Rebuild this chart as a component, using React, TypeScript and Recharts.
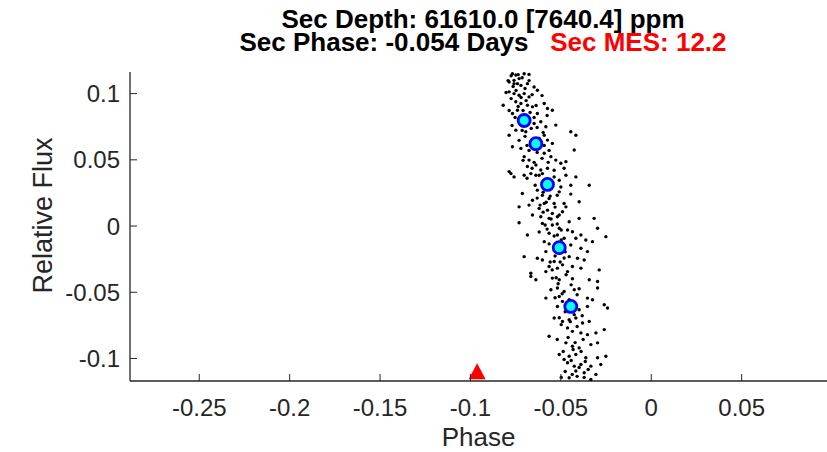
import { Scatter, ScatterChart, XAxis, YAxis } from "recharts";

const xTicks = [-0.25, -0.2, -0.15, -0.1, -0.05, 0, 0.05];
const yTicks = [-0.1, -0.05, 0, 0.05, 0.1];
const xDomain = [-0.2883, 0.0972];
const yDomain = [-0.117, 0.1163];

// folded light curve samples (phase, relative flux)
const foldedPoints: [number, number][] = [
  [-0.0768, 0.115], [-0.0749, 0.114], [-0.0703, 0.115], [-0.0676, 0.1145],
  [-0.0786, 0.1088], [-0.0759, 0.11], [-0.0731, 0.1113], [-0.074, 0.1075], [-0.0721, 0.1062], [-0.0685, 0.1075], [-0.0648, 0.105], [-0.063, 0.1025],
  [-0.0786, 0.1013], [-0.0759, 0.1], [-0.0731, 0.0987], [-0.0703, 0.1], [-0.0676, 0.0975],
  [-0.0819, 0.0912], [-0.0749, 0.0938], [-0.0721, 0.0925], [-0.0685, 0.0912], [-0.0657, 0.09], [-0.0592, 0.0925], [-0.0574, 0.0887], [-0.0547, 0.0874], [-0.063, 0.085], [-0.074, 0.0874], [-0.0768, 0.085],
  [-0.0648, 0.0774], [-0.0611, 0.0787], [-0.0583, 0.075], [-0.0528, 0.0762], [-0.0749, 0.0724], [-0.0786, 0.0686], [-0.0694, 0.0712], [-0.0445, 0.0712], [-0.0417, 0.0686], [-0.0592, 0.0686], [-0.0574, 0.0649], [-0.0547, 0.0624],
  [-0.0768, 0.0599], [-0.0721, 0.0586], [-0.0426, 0.0574], [-0.0703, 0.0524], [-0.0676, 0.0498], [-0.0592, 0.0549], [-0.0555, 0.0524], [-0.0528, 0.0498], [-0.05, 0.0474], [-0.0472, 0.0486], [-0.0482, 0.0436], [-0.0638, 0.0461], [-0.0685, 0.0449], [-0.0786, 0.0411], [-0.0611, 0.0423], [-0.0574, 0.0436],
  [-0.0776, 0.0396], [-0.0759, 0.0371], [-0.0703, 0.0383], [-0.0666, 0.0396], [-0.0638, 0.0383], [-0.0602, 0.0396], [-0.0537, 0.0371], [-0.0509, 0.0346], [-0.0472, 0.0383], [-0.0417, 0.0371], [-0.05, 0.0295], [-0.0445, 0.0308], [-0.0343, 0.0308],
  [-0.0713, 0.0246], [-0.063, 0.0271], [-0.0602, 0.0233], [-0.0565, 0.0208], [-0.0509, 0.0258], [-0.0445, 0.0241], [-0.0657, 0.0195], [-0.0592, 0.0171], [-0.0537, 0.0171], [-0.0482, 0.0171], [-0.0399, 0.0183], [-0.0731, 0.0145], [-0.0676, 0.0158], [-0.062, 0.0133], [-0.0574, 0.012], [-0.0547, 0.0095], [-0.0472, 0.0145], [-0.0491, 0.0108], [-0.0657, 0.0083], [-0.0611, 0.007], [-0.0565, 0.0058], [-0.0519, 0.007], [-0.0454, 0.0032], [-0.0399, 0.0058], [-0.0316, 0.0058],
  [-0.0731, 0.0025], [-0.0602, 0.002], [-0.0547, 0.0008], [-0.0509, -0.0017], [-0.0463, -0.003], [-0.0436, -0.0043], [-0.0297, -0.0017], [-0.0685, -0.0068], [-0.0565, -0.0055], [-0.0519, -0.0068], [-0.0482, -0.0092], [-0.0417, -0.0092], [-0.0389, -0.0068], [-0.0362, -0.0105], [-0.0325, -0.0118], [-0.0251, -0.008], [-0.0592, -0.0118], [-0.0445, -0.0143], [-0.0389, -0.0168], [-0.0353, -0.0193], [-0.0583, -0.0193], [-0.063, -0.0243], [-0.0602, -0.0256], [-0.0703, -0.0231], [-0.0454, -0.0231], [-0.0408, -0.0243], [-0.0371, -0.0256], [-0.0537, -0.0268], [-0.0565, -0.0306], [-0.0519, -0.0318], [-0.0491, -0.0293], [-0.0436, -0.0306], [-0.0389, -0.0318], [-0.0666, -0.0356], [-0.0583, -0.0344], [-0.0463, -0.0344], [-0.0288, -0.0331],
  [-0.0666, -0.0381], [-0.0638, -0.0406], [-0.0547, -0.0393], [-0.0509, -0.0406], [-0.0436, -0.0398], [-0.0343, -0.0406], [-0.0297, -0.0419],
  [-0.0555, -0.0481], [-0.0519, -0.0468], [-0.0482, -0.0494], [-0.0426, -0.0481], [-0.0399, -0.0474], [-0.0297, -0.0468],
  [-0.0583, -0.0544], [-0.0509, -0.0532], [-0.0491, -0.0569], [-0.0353, -0.0544], [-0.0325, -0.0556], [-0.026, -0.0594], [-0.0242, -0.0619], [-0.0519, -0.0607], [-0.0399, -0.0632], [-0.0353, -0.0607],
  [-0.0537, -0.0694], [-0.0491, -0.072], [-0.0454, -0.0707], [-0.0417, -0.0694], [-0.038, -0.0732], [-0.0343, -0.072], [-0.0463, -0.0769], [-0.0436, -0.0795], [-0.0389, -0.0807], [-0.0353, -0.082], [-0.0306, -0.0807], [-0.026, -0.0782], [-0.0565, -0.0832],
  [-0.0297, -0.0882], [-0.0472, -0.0882], [-0.0436, -0.0908], [-0.0399, -0.092], [-0.0334, -0.0895],
  [-0.0509, -0.097], [-0.0454, -0.0983], [-0.0417, -0.097], [-0.0362, -0.0995], [-0.0297, -0.0995], [-0.0251, -0.0983],
  [-0.0463, -0.1032], [-0.0426, -0.1058], [-0.0389, -0.1045], [-0.0334, -0.1058], [-0.0279, -0.1045],
  [-0.0417, -0.1095], [-0.0371, -0.1108], [-0.0306, -0.112], [-0.0454, -0.1145], [-0.0334, -0.1158],
  // denser core of the band
  [-0.0775, 0.1135], [-0.0736, 0.1143], [-0.0714, 0.112], [-0.0764, 0.1053], [-0.0698, 0.1038], [-0.0748, 0.1023], [-0.072, 0.097], [-0.0775, 0.0962], [-0.0692, 0.0947], [-0.0736, 0.0902],
  [-0.0709, 0.0872], [-0.067, 0.0857], [-0.0753, 0.082], [-0.0687, 0.0812], [-0.0648, 0.082], [-0.0725, 0.0782], [-0.0631, 0.0744], [-0.0664, 0.0737], [-0.0698, 0.0677], [-0.062, 0.0662],
  [-0.0653, 0.0632], [-0.0592, 0.0609], [-0.0676, 0.0571], [-0.0631, 0.0556], [-0.0604, 0.0511], [-0.0648, 0.0481], [-0.057, 0.0481], [-0.062, 0.0383], [-0.0587, 0.0346], [-0.0548, 0.0316],
  [-0.0598, 0.0256], [-0.0559, 0.0226], [-0.0581, 0.018], [-0.0532, 0.0143], [-0.0598, 0.0105], [-0.0554, 0.0053], [-0.052, 0.0015], [-0.0576, -0.0023], [-0.0537, -0.0075], [-0.0498, -0.0105],
  [-0.0565, -0.0135], [-0.0476, -0.0195], [-0.0532, -0.0226], [-0.0504, -0.0271], [-0.0548, -0.0331], [-0.0471, -0.0368], [-0.0515, -0.0436],
  [-0.0493, -0.0511], [-0.0454, -0.0556], [-0.0476, -0.0647], [-0.0426, -0.0669], [-0.0498, -0.0744], [-0.041, -0.0759], [-0.046, -0.0842], [-0.0377, -0.0857], [-0.0432, -0.0932],
  [-0.0487, -0.0947], [-0.0388, -0.0947], [-0.0443, -0.1015], [-0.0399, -0.1068], [-0.0349, -0.1083], [-0.0476, -0.1098], [-0.041, -0.1135],
  [-0.0792, 0.1098], [-0.0759, 0.1075], [-0.0676, 0.1098], [-0.0803, 0.1008], [-0.0659, 0.0992], [-0.0786, 0.0872], [-0.0637, 0.091], [-0.077, 0.0759], [-0.0714, 0.0722], [-0.0598, 0.0707],
  [-0.0731, 0.0647], [-0.0687, 0.0609], [-0.0565, 0.0571], [-0.0709, 0.0496], [-0.0659, 0.0436], [-0.0537, 0.0421], [-0.0687, 0.0361], [-0.0642, 0.0308], [-0.052, 0.0233], [-0.0631, 0.0211],
  [-0.0615, 0.0158], [-0.0509, 0.0083], [-0.0587, 0.0008], [-0.062, -0.0045], [-0.0498, -0.003], [-0.0559, -0.0271], [-0.0482, -0.0241], [-0.0526, -0.0391], [-0.0443, -0.0444], [-0.0532, -0.0541],
  [-0.041, -0.0519], [-0.0509, -0.0692], [-0.0448, -0.0722], [-0.0382, -0.0677], [-0.052, -0.0857], [-0.0421, -0.088], [-0.0482, -0.1008], [-0.0365, -0.1023], [-0.0437, -0.112], [-0.0371, -0.1143],
  [-0.0498, -0.1143], [-0.0576, 0.0835], [-0.0604, 0.0985],
];

// binned averages
const binPhase = [-0.0703, -0.0638, -0.0574, -0.0509, -0.0445];
const binFlux = [0.0797, 0.0622, 0.0314, -0.0163, -0.0607];

// secondary eclipse phase marker
const markerPhase = [-0.0963];
const markerFlux = [-0.1097];

const dots = foldedPoints.map(([x, y]) => ({ x, y }));
const bins = binPhase.map((x, i) => ({ x, y: binFlux[i] }));
const marker = markerPhase.map((x, i) => ({ x, y: markerFlux[i] }));

const AXIS = "#262626";
const FONT = "'Liberation Sans', Arial, sans-serif";
const TICK_LEN = 7;

const fmt = (v: number) => String(v);

function BottomTick({ x, y, payload }: any) {
  return (
    <g>
      <line x1={x} x2={x} y1={y} y2={y - TICK_LEN} stroke={AXIS} strokeWidth={1} />
      <text x={x} y={y + 35} textAnchor="middle" fontSize={24} fontFamily={FONT} fill={AXIS}>
        {fmt(payload.value)}
      </text>
    </g>
  );
}

function TopTick({ x, y }: any) {
  return <line x1={x} x2={x} y1={y} y2={y + TICK_LEN} stroke={AXIS} strokeWidth={1} />;
}

function LeftTick({ x, y, payload }: any) {
  return (
    <g>
      <line x1={x} x2={x + TICK_LEN} y1={y} y2={y} stroke={AXIS} strokeWidth={1} />
      <text x={x - 10} y={y} dy="0.355em" textAnchor="end" fontSize={24} fontFamily={FONT} fill={AXIS}>
        {fmt(payload.value)}
      </text>
    </g>
  );
}

function RightTick({ x, y }: any) {
  return <line x1={x} x2={x - TICK_LEN} y1={y} y2={y} stroke={AXIS} strokeWidth={1} />;
}

const Dot = ({ cx, cy }: any) => <circle cx={cx} cy={cy} r={1.7} fill="#000000" />;
const BinDot = ({ cx, cy }: any) => (
  <circle cx={cx} cy={cy} r={6} fill="#00FFFF" stroke="#0000FF" strokeWidth={2.8} />
);
const Triangle = ({ cx, cy }: any) => (
  <path d={`M${cx},${cy - 8} L${cx + 8.5},${cy + 8} L${cx - 8.5},${cy + 8} Z`} fill="#FF0000" />
);

const titleLine = {
  position: "absolute" as const,
  left: 139,
  width: 688,
  height: 23,
  textAlign: "center" as const,
  fontFamily: FONT,
  fontWeight: "bold" as const,
  fontSize: 26,
  lineHeight: "23px",
  color: "#000",
  whiteSpace: "pre" as const,
};

export default function App() {
  return (
    <div style={{ position: "absolute", left: 0, top: 0, width: 827, height: 452, background: "#fff" }}>
      <div style={{ ...titleLine, top: 8 }}>Sec Depth: 61610.0 [7640.4] ppm</div>
      <div style={{ ...titleLine, top: 31 }}>
        Sec Phase: -0.054 Days   <span style={{ color: "#FF0000" }}>Sec MES: 12.2</span>
      </div>
      <ScatterChart width={827} height={452} margin={{ top: 72, right: 0, bottom: 0, left: 0 }}>
        <XAxis
          xAxisId="bottom"
          dataKey="x"
          type="number"
          domain={xDomain}
          ticks={xTicks}
          interval={0}
          allowDataOverflow
          height={71}
          tickSize={0}
          tickMargin={0}
          tick={<BottomTick />}
          axisLine={{ stroke: AXIS, strokeWidth: 1.3 }}
          label={{
            value: "Phase",
            position: "insideBottom",
            offset: 6,
            style: { fontFamily: FONT, fontSize: 26, fill: AXIS },
          }}
        />
        <XAxis
          xAxisId="top"
          orientation="top"
          dataKey="x"
          type="number"
          domain={xDomain}
          ticks={xTicks}
          interval={0}
          allowDataOverflow
          height={0}
          tickSize={0}
          tickMargin={0}
          tick={<TopTick />}
          axisLine={{ stroke: AXIS, strokeWidth: 1.3 }}
        />
        <YAxis
          yAxisId="left"
          dataKey="y"
          type="number"
          domain={yDomain}
          ticks={yTicks}
          interval={0}
          allowDataOverflow
          width={130}
          tickSize={0}
          tickMargin={0}
          tick={<LeftTick />}
          axisLine={{ stroke: AXIS, strokeWidth: 1.3 }}
          label={{
            value: "Relative Flux",
            angle: -90,
            position: "center",
            dx: -23,
            dy: -11,
            style: { fontFamily: FONT, fontSize: 27, fill: AXIS, textAnchor: "middle" },
          }}
        />
        <YAxis
          yAxisId="right"
          orientation="right"
          dataKey="y"
          type="number"
          domain={yDomain}
          ticks={yTicks}
          interval={0}
          allowDataOverflow
          width={0}
          tickSize={0}
          tickMargin={0}
          tick={<RightTick />}
          axisLine={{ stroke: AXIS, strokeWidth: 1.3 }}
        />
        <Scatter xAxisId="bottom" yAxisId="left" data={dots} shape={<Dot />} isAnimationActive={false} />
        <Scatter xAxisId="bottom" yAxisId="left" data={marker} shape={<Triangle />} isAnimationActive={false} />
        <Scatter xAxisId="bottom" yAxisId="left" data={bins} shape={<BinDot />} isAnimationActive={false} />
        <Scatter xAxisId="top" yAxisId="right" data={[]} isAnimationActive={false} />
      </ScatterChart>
    </div>
  );
}
